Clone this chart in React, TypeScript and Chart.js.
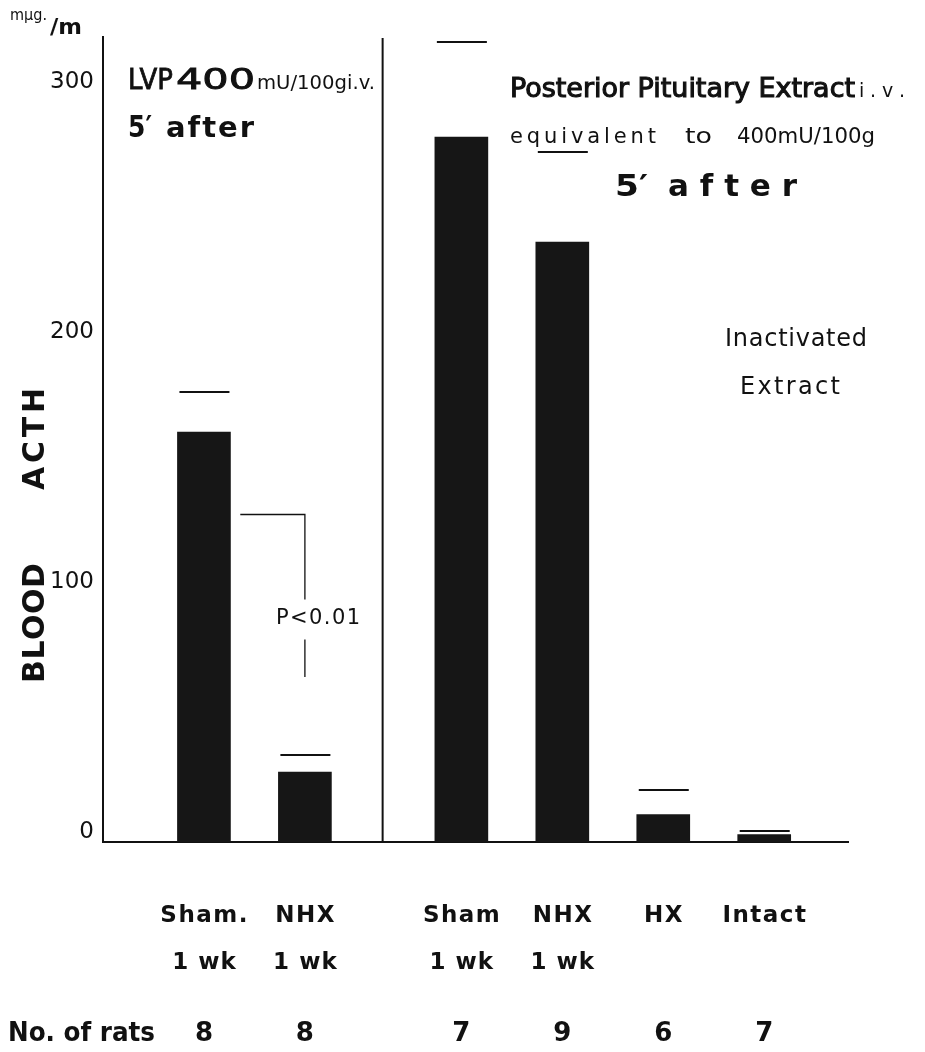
import React, { useEffect, useRef } from "react";
import { Chart, registerables } from "chart.js";

Chart.register(...registerables);

// ---- data ----
const categories = ["Sham.", "NHX", "Sham", "NHX", "HX", "Intact"];
const subLabels = ["1 wk", "1 wk", "1 wk", "1 wk", "", ""];
const groups = ["LVP", "LVP", "PPE", "PPE", "PPE", "PPE"];
const acthMean = [164, 28, 282, 240, 11, 3];
const acthUpper = [180, 35, 320, 276, 21, 4.5];
const ratCounts = [8, 8, 7, 9, 6, 7];
const yTicks = [0, 100, 200, 300];

// ---- layout constants ----
const GROUP_GAP = 0.55;
const X_MIN = -1;
const X_MAX = 6.38;
const Y_MAX = 322;
const DIVIDER_X = 1.77;
const FONT = '"DejaVu Sans", "Liberation Sans", sans-serif';
const INK = "#111";

const positions = categories.map((_, i) => i + (groups[i] === "PPE" ? GROUP_GAP : 0));

function fitText(
  ctx: CanvasRenderingContext2D,
  s: string,
  left: number,
  right: number,
  baseline: number,
  font: string,
  mode: "auto" | "scale" = "auto",
  heavy = 0
) {
  ctx.font = font;
  ctx.textBaseline = "alphabetic";
  ctx.textAlign = "left";
  ctx.strokeStyle = INK;
  ctx.lineWidth = heavy;
  const chars = Array.from(s);
  const widths = chars.map((c) => ctx.measureText(c).width);
  const total = widths.reduce((a, b) => a + b, 0);
  const target = right - left;
  if (mode === "scale" || total >= target || chars.length < 2) {
    const sx = target / ctx.measureText(s).width;
    ctx.save();
    ctx.translate(left, baseline);
    ctx.scale(sx, 1);
    ctx.fillText(s, 0, 0);
    if (heavy) ctx.strokeText(s, 0, 0);
    ctx.restore();
  } else {
    const extra = (target - total) / (chars.length - 1);
    let x = left;
    chars.forEach((c, i) => {
      ctx.fillText(c, x, baseline);
      if (heavy) ctx.strokeText(c, x, baseline);
      x += widths[i] + extra;
    });
  }
}

function spacedCenter(ctx: CanvasRenderingContext2D, s: string, cx: number, baseline: number, font: string, extra: number) {
  ctx.font = font;
  const chars = Array.from(s);
  const widths = chars.map((c) => ctx.measureText(c).width);
  const total = widths.reduce((a, b) => a + b, 0) + extra * (chars.length - 1);
  fitText(ctx, s, cx - total / 2, cx + total / 2, baseline, font);
}

const overlayPlugin = {
  id: "overlay",
  afterDatasetsDraw(chart: any) {
    const ctx: CanvasRenderingContext2D = chart.ctx;
    const xs = chart.scales.x;
    const ys = chart.scales.y;
    const meta = chart.getDatasetMeta(0);
    ctx.save();
    ctx.strokeStyle = INK;
    // error (upper) lines
    ctx.lineWidth = 2;
    meta.data.forEach((el: any, i: number) => {
      const y = Math.round(ys.getPixelForValue(acthUpper[i]));
      ctx.beginPath();
      ctx.moveTo(el.x - el.width / 2 + 2, y);
      ctx.lineTo(el.x + el.width / 2 - 1, y);
      ctx.stroke();
    });
    // divider between groups
    const dx = xs.getPixelForValue(DIVIDER_X);
    ctx.lineWidth = 2;
    ctx.beginPath();
    ctx.moveTo(dx, chart.chartArea.top + 1);
    ctx.lineTo(dx, ys.getPixelForValue(0));
    ctx.stroke();
    // significance bracket
    ctx.lineWidth = 1.3;
    const bx0 = xs.getPixelForValue(0.36);
    const bx1 = xs.getPixelForValue(1.0);
    ctx.beginPath();
    ctx.moveTo(bx0, ys.getPixelForValue(131));
    ctx.lineTo(bx1, ys.getPixelForValue(131));
    ctx.lineTo(bx1, ys.getPixelForValue(97));
    ctx.moveTo(bx1, ys.getPixelForValue(81));
    ctx.lineTo(bx1, ys.getPixelForValue(66));
    ctx.stroke();
    ctx.restore();
  },
  afterDraw(chart: any) {
    const ctx: CanvasRenderingContext2D = chart.ctx;
    const xs = chart.scales.x;
    ctx.save();
    ctx.fillStyle = INK;
    // unit
    fitText(ctx, "mμg.", 10, 47, 20, `15px ${FONT}`, "scale");
    fitText(ctx, "/m", 50, 82, 34, `bold 22px ${FONT}`, "scale");
    // y axis title
    ctx.save();
    ctx.translate(44, 0);
    ctx.rotate(-Math.PI / 2);
    fitText(ctx, "BLOOD", -683, -563, 0, `bold 30px ${FONT}`);
    fitText(ctx, "ACTH", -490, -388, 0, `bold 30px ${FONT}`);
    ctx.restore();
    // left panel title
    fitText(ctx, "LVP", 128, 173, 89, `28px ${FONT}`, "scale", 0.8);
    fitText(ctx, "400", 176, 255, 89, `28px ${FONT}`, "scale", 0.8);
    fitText(ctx, "mU/100gi.v.", 257, 375, 89, `19px ${FONT}`, "scale");
    fitText(ctx, "5′", 128, 152, 137, `bold 30px ${FONT}`, "scale");
    fitText(ctx, "after", 166, 254, 137, `bold 29px ${FONT}`);
    // right panel title
    fitText(ctx, "Posterior Pituitary Extract", 510, 855, 97, `26px ${FONT}`, "scale", 1.1);
    fitText(ctx, "i.v.", 859, 905, 97, `19px ${FONT}`);
    fitText(ctx, "equivalent", 510, 656, 143, `21px ${FONT}`);
    fitText(ctx, "to", 685, 712, 143, `21px ${FONT}`, "scale");
    fitText(ctx, "400mU/100g", 737, 875, 143, `21px ${FONT}`, "scale");
    fitText(ctx, "5′", 615, 648, 196, `bold 31px ${FONT}`, "scale");
    fitText(ctx, "after", 668, 797, 196, `bold 31px ${FONT}`);
    fitText(ctx, "Inactivated", 725, 867, 346, `24px ${FONT}`);
    fitText(ctx, "Extract", 740, 840, 394, `24px ${FONT}`);
    // significance
    fitText(ctx, "P<0.01", 276, 360, 624, `21px ${FONT}`);
    // category labels
    positions.forEach((p, i) => {
      const cx = xs.getPixelForValue(p);
      spacedCenter(ctx, categories[i], cx, 922, `bold 23px ${FONT}`, 1.5);
      if (subLabels[i]) spacedCenter(ctx, subLabels[i], cx, 969, `bold 23px ${FONT}`, 1);
      spacedCenter(ctx, String(ratCounts[i]), cx, 1041, `bold 26px ${FONT}`, 0);
    });
    fitText(ctx, "No. of rats", 8, 155, 1041, `bold 26px ${FONT}`, "scale");
    ctx.restore();
  },
};

export default function App() {
  const ref = useRef<HTMLCanvasElement | null>(null);
  useEffect(() => {
    if (!ref.current) return;
    const chart = new Chart(ref.current, {
      type: "bar",
      data: {
        datasets: [
          {
            data: positions.map((x, i) => ({ x, y: acthMean[i] })),
            backgroundColor: "#161616",
            borderWidth: 0,
            barThickness: 53,
          },
        ],
      },
      options: {
        animation: false,
        responsive: false,
        devicePixelRatio: 1,
        layout: { padding: { left: 33, right: 77, top: 37, bottom: 210 } },
        plugins: { legend: { display: false }, tooltip: { enabled: false } },
        scales: {
          x: {
            type: "linear",
            offset: false,
            min: X_MIN,
            max: X_MAX,
            grid: { display: false, drawTicks: false, offset: false },
            border: { display: true, color: INK, width: 2 },
            ticks: { display: false },
          },
          y: {
            min: 0,
            max: Y_MAX,
            afterBuildTicks: (s: any) => {
              s.ticks = yTicks.map((v) => ({ value: v }));
            },
            afterFit: (s: any) => {
              s.width = 70;
            },
            grid: { display: false, drawTicks: false },
            border: { display: true, color: INK, width: 2 },
            ticks: {
              color: INK,
              padding: 9,
              labelOffset: -10,
              font: { family: FONT, size: 23 },
            },
          },
        },
      },
      plugins: [overlayPlugin],
    });
    return () => chart.destroy();
  }, []);
  return (
    <div style={{ position: "absolute", left: 0, top: 0, width: 925, height: 1052, background: "#fff" }}>
      <canvas ref={ref} width={925} height={1052} style={{ width: 925, height: 1052, display: "block" }} />
    </div>
  );
}
